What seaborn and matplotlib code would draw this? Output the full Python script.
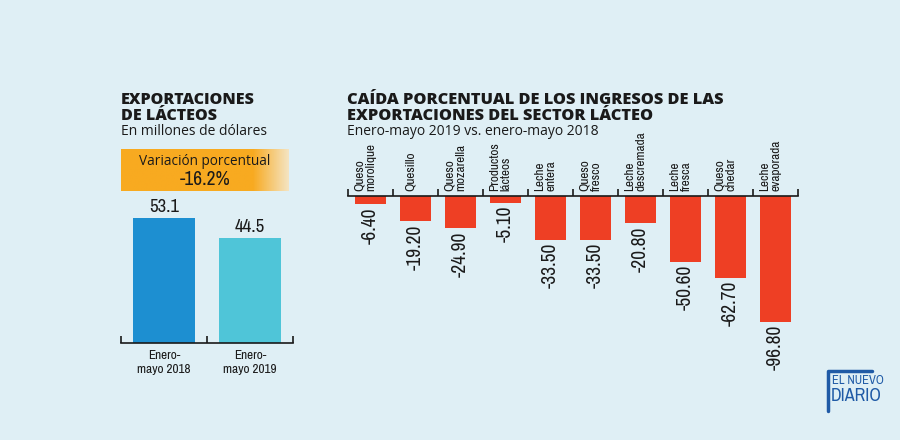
import numpy as np
import matplotlib
matplotlib.use('Agg')
import matplotlib.pyplot as plt
from matplotlib import font_manager
import seaborn as sns

# ── Data ──────────────────────────────────────────────────────────────────────
periodos = ['Enero-\nmayo 2018', 'Enero-\nmayo 2019']
exportaciones = [53.1, 44.5]

productos = ['Queso\nmorolique', 'Quesillo', 'Queso\nmozarella', 'Productos\nlácteos',
             'Leche\nentera', 'Queso\nfresco', 'Leche\ndescremada', 'Leche\nfresca',
             'Queso\nchedar', 'Leche\nevaporada']
caida = [-6.40, -19.20, -24.90, -5.10, -33.50, -33.50, -20.80, -50.60, -62.70, -96.80]

BG = '#dfeff5'
BLUE = '#1d8fd1'
CYAN = '#4fc5d8'
RED = '#ee3f24'
TXT = '#1a1a1a'
LOGO = '#1f5aa6'
HEAD = 'Open Sans'

# narrow font if one is installed, otherwise Liberation Sans
names = sorted({f.name for f in font_manager.fontManager.ttflist})
narrow = [n for n in names if 'Narrow' in n or 'Condensed' in n or 'Cond' in n]
NARROW = [narrow[0], 'DejaVu Sans'] if narrow else ['Liberation Sans', 'DejaVu Sans']
NS = 1.0 if narrow else 0.85   # shrink when no narrow face

sns.set_theme(style='white')
plt.rcParams['font.family'] = ['Open Sans', 'DejaVu Sans']

W, H = 900, 440
fig = plt.figure(figsize=(9, 4.4), dpi=100, facecolor=BG)


def px(x0, y0, x1, y1):
    # pixel box (top-left origin) -> figure fraction rect
    return [x0 / W, 1 - y1 / H, (x1 - x0) / W, (y1 - y0) / H]


# ── Left chart ────────────────────────────────────────────────────────────────
axl = fig.add_axes(px(121, 343 - 141, 293, 343))
axl.set_facecolor('none')
sns.barplot(x=periodos, y=exportaciones, hue=periodos, palette=[BLUE, CYAN],
            legend=False, width=0.71, ax=axl, saturation=1, linewidth=0)
axl.set_ylim(0, 60)
axl.set_xlim(-0.5, 1.5)
axl.set_yticks([])
axl.set_xlabel('')
axl.set_ylabel('')
for s in ['top', 'right', 'left']:
    axl.spines[s].set_visible(False)
axl.spines['bottom'].set_color(TXT)
axl.spines['bottom'].set_linewidth(1.2)
axl.set_xticks([0, 1])
axl.set_xticklabels(periodos, family=NARROW, fontsize=9.5 * NS, color=TXT, linespacing=1.3)
axl.tick_params(axis='x', which='major', length=0, pad=5)
axl.set_xticks([-0.5, 0.5, 1.5], minor=True)
axl.tick_params(axis='x', which='minor', direction='in', length=5, width=1.2,
                color=TXT, bottom=True)
for i, v in enumerate(exportaciones):
    axl.text(i, v + 1.5, f'{v}', ha='center', va='bottom', fontsize=13.5 * NS,
             family=NARROW, color=TXT)

fig.text(121 / W, 1 - 92 / H, 'EXPORTACIONES\nDE LÁCTEOS', ha='left', va='top',
         fontsize=11.5, fontweight='heavy', family=HEAD, color=TXT, linespacing=1.0)
fig.text(121 / W, 1 - 124 / H, 'En millones de dólares', ha='left', va='top',
         fontsize=10, family=HEAD, color=TXT)

# orange gradient box
axg = fig.add_axes(px(121, 149, 289, 191))
grad = np.concatenate([np.full(78, 1.0), np.linspace(1.0, 0.1, 22)])
c0 = np.array([244, 234, 210]) / 255
c1 = np.array([248, 170, 32]) / 255
img = (c0[None, :] * (1 - grad[:, None]) + c1[None, :] * grad[:, None])[None, :, :]
axg.imshow(img, aspect='auto', extent=[0, 1, 0, 1])
axg.axis('off')
axg.text(0.5, 0.7, 'Variación porcentual', ha='center', va='center', fontsize=9.8,
         family=HEAD, color=TXT, transform=axg.transAxes)
axg.text(0.5, 0.28, '-16.2%', ha='center', va='center', fontsize=14 * NS,
         family=NARROW, color=TXT, transform=axg.transAxes)

# ── Right chart ───────────────────────────────────────────────────────────────
axr = fig.add_axes(px(348, 196, 798, 326))
axr.set_facecolor('none')
sns.barplot(x=list(range(len(caida))), y=caida, color=RED, width=0.71,
            ax=axr, saturation=1, linewidth=0)
axr.set_ylim(-100, 0)
axr.set_xlim(-0.5, len(caida) - 0.5)
axr.set_yticks([])
axr.set_xlabel('')
axr.set_ylabel('')
for s in ['bottom', 'right', 'left']:
    axr.spines[s].set_visible(False)
axr.spines['top'].set_color(TXT)
axr.spines['top'].set_linewidth(1.2)
axr.set_xticks([])
axr.set_xticks(np.arange(-0.5, len(caida)), minor=True)
axr.tick_params(axis='x', which='minor', direction='out', length=5, width=1.2,
                color=TXT, top=True, bottom=False, labelbottom=False)
for i, (name, v) in enumerate(zip(productos, caida)):
    axr.text(i, v - 2.5, f'{v:.2f}', ha='center', va='top', rotation=90,
             fontsize=14 * NS, family=NARROW, color=TXT)
    axr.text(i - 0.12, 3.5, name, ha='center', va='bottom', rotation=90,
             multialignment='left', fontsize=9.5 * NS, family=NARROW, color=TXT,
             linespacing=1.1, clip_on=False)

fig.text(347 / W, 1 - 92 / H,
         'CAÍDA PORCENTUAL DE LOS INGRESOS DE LAS\nEXPORTACIONES DEL SECTOR LÁCTEO',
         ha='left', va='top', fontsize=11.8, fontweight='heavy', family=HEAD,
         color=TXT, linespacing=1.0)
fig.text(347 / W, 1 - 124 / H, 'Enero-mayo 2019 vs. enero-mayo 2018', ha='left',
         va='top', fontsize=10, family=HEAD, color=TXT)

# ── Logo ──────────────────────────────────────────────────────────────────────
fig.text(832 / W, 1 - 375 / H, 'EL NUEVO', ha='left', va='top',
         fontsize=9 * NS, fontweight='bold', family=NARROW, color=LOGO)
fig.text(831 / W, 1 - 388 / H, 'DIARIO', ha='left', va='top',
         fontsize=13 * NS, fontweight='bold', family=NARROW, color=LOGO)
fig.add_artist(plt.Line2D([828 / W, 828 / W, 872 / W], [1 - 411 / H, 1 - 371 / H, 1 - 371 / H],
                          color=LOGO, lw=2.5))

fig.savefig('out.png', dpi=100, facecolor=BG)
